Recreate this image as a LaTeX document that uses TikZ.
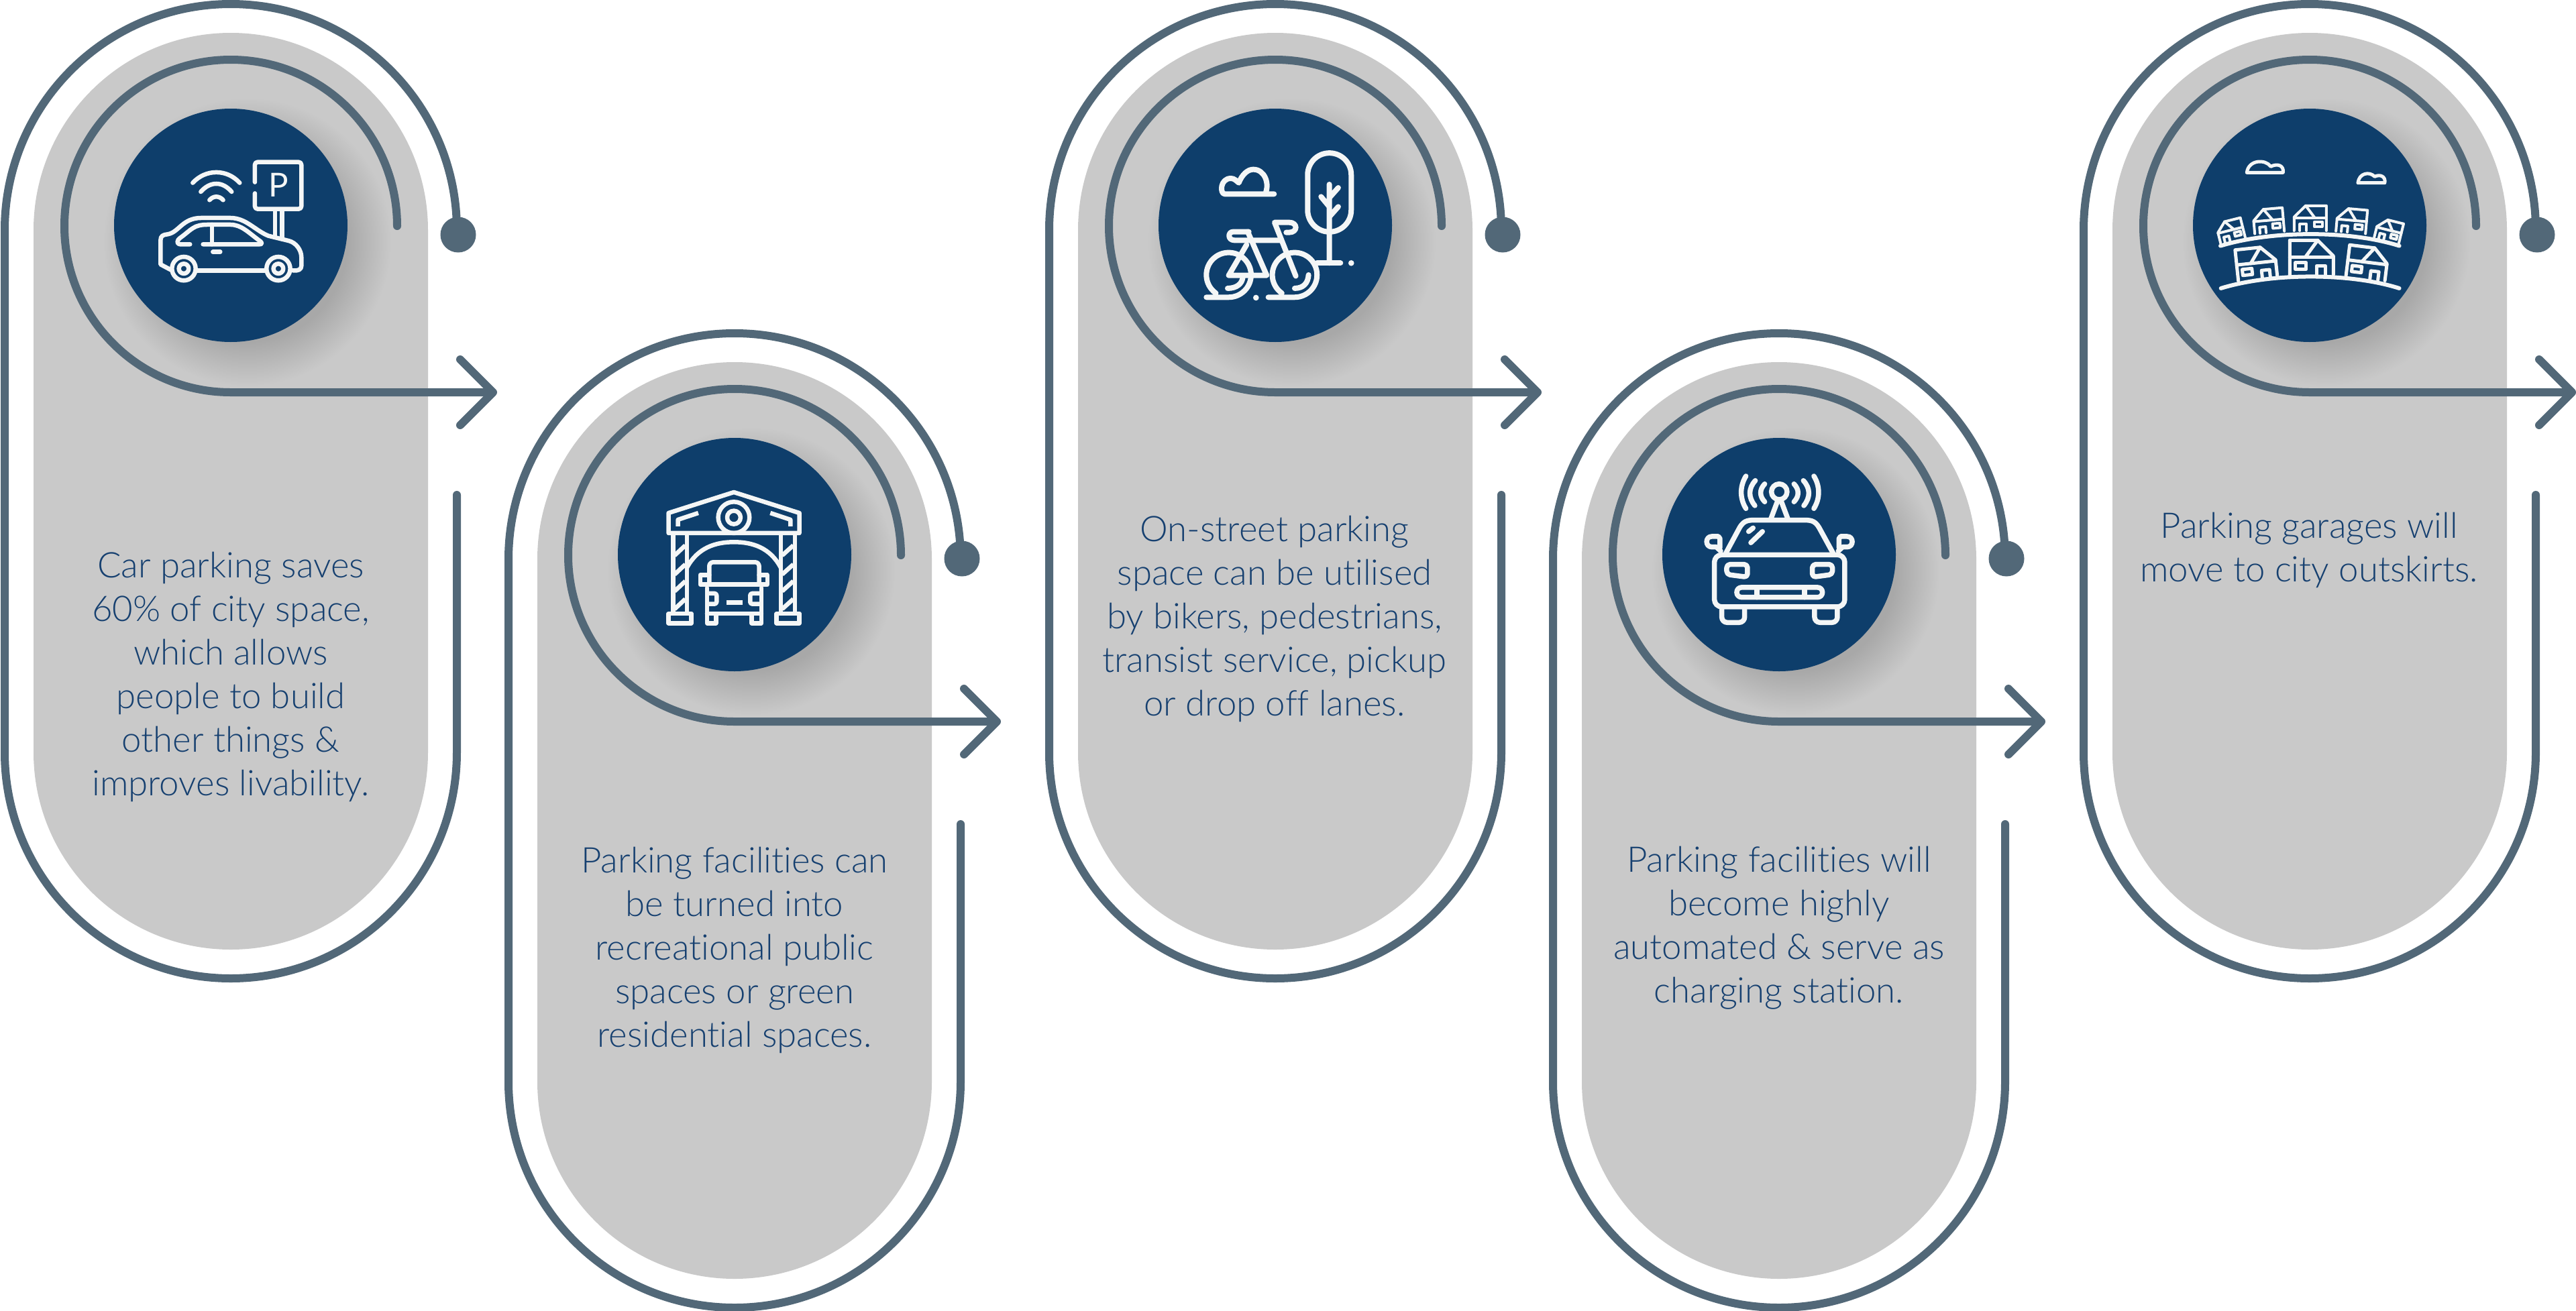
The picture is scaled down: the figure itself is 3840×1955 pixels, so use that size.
\documentclass[tikz,border=0pt]{standalone}
\usepackage{fontspec}
\setmainfont{Lato}[UprightFont=* Light,BoldFont=*,Ligatures=NoCommon]
\usetikzlibrary{arrows.meta}
\definecolor{pillgray}{HTML}{C9C9C9}
\definecolor{flowslate}{HTML}{526878}
\definecolor{badgeblue}{HTML}{0E3E6B}
\definecolor{captionblue}{HTML}{164070}
\definecolor{iconwhite}{HTML}{F4F6F6}
\tikzset{
	flow/.style={draw=flowslate,line width=1.2mm,line cap=round},
	badge/.style={circle,fill=badgeblue,minimum size=3.48cm,inner sep=0pt},
	stopdot/.style={circle,fill=flowslate,minimum size=5.3mm,inner sep=0pt},
	caption/.style={align=center,text=captionblue,font=\fontsize{15}{18.5}\selectfont},
	iconline/.style={draw=iconwhite,line width=.65mm,line cap=round,line join=round},
	zoomed/.style={x=.03333mm,y=-.03333mm},
	cottage/.pic={
		\draw[iconline] (-97,0) -- (-97,-155) -- (28,-155) -- (98,-85) -- (98,0);
		\draw[iconline] (-27,-80) -- (28,-155);
		\draw[iconline] (-97,-80) -- (98,-80);
		\draw[iconline] (-72,-55) rectangle (-24,-25);
		\draw[iconline] (23,0) -- (23,-40) -- (63,-40) -- (63,0);
	}
}
\begin{document}
\begin{tikzpicture}[x=.1mm,y=-.1mm]
	\useasboundingbox (0,0) rectangle (3840,1955);

	% the five panels
	\foreach \n/\dx/\dy/\doty in {one/0/0/350,two/751/491/342,three/1557/0/350,four/2308/491/342,five/3099/0/350} {
		\begin{scope}[shift={(\dx,\dy)}]
			\fill[pillgray] (50,343) arc[start angle=180,end angle=360,radius=294] -- (638,1122)
				arc[start angle=0,end angle=180,radius=294] -- cycle;
			\foreach \r in {150,152,...,214}
				\fill[black,opacity=.0055] (369,361) circle[radius=\r];
			\coordinate (\n-ring) at (681,738);
			\coordinate (\n-inner) at (592,337);
			\coordinate (\n-tip) at (741,585);
			\node[stopdot] (\n-dot) at (683,\doty) {};
			\draw[flow] (\n-ring) -- (681,1122) arc[start angle=0,end angle=180,radius=337]
				-- (7,343) arc[start angle=180,end angle=360,radius=337] -- (\n-dot.center);
			\draw[flow,-{Straight Barb[round,length=4.9mm,width=9.8mm]}] (\n-inner)
				arc[start angle=360,end angle=90,radius=248] -- (\n-tip);
			\node[badge] (\n-badge) at (344,336) {};
		\end{scope}
	}

	% captions
	\node[caption] (one-text) at (344,1009) {Car parking saves\\60\% of city space,\\which allows\\people to build\\other things \&\\improves livability.};
	\node[caption] (two-text) at (1095,1417) {Parking facilities can\\be turned into\\recreational public\\spaces or green\\residential spaces.};
	\node[caption] (three-text) at (1900,923) {On-street parking\\space can be utilised\\by bikers, pedestrians,\\transist service, pickup\\or drop off lanes.};
	\node[caption] (four-text) at (2652,1384) {Parking facilities will\\become highly\\automated \& serve as\\charging station.};
	\node[caption] (five-text) at (3442,820) {Parking garages will\\move to city outskirts.};

	% car and parking sign
	\begin{scope}[shift={(200,210)},zoomed]
		\draw[iconline,rounded corners=.4mm] (540,185) -- (540,95) -- (748,95) -- (748,305) -- (540,305) -- (540,235);
		\node[text=iconwhite,font=\fontsize{14}{14}\bfseries\selectfont] (sign-letter) at (645,197) {P};
		\draw[iconline] (630,310) -- (630,425) (662,310) -- (662,435);
		\draw[iconline] (262,188) .. controls (320,125) and (415,125) .. (472,188);
		\draw[iconline] (298,228) .. controls (340,180) and (395,180) .. (436,228);
		\draw[iconline] (337,265) .. controls (355,245) and (380,245) .. (398,265);
		\draw[iconline] (165,578) -- (118,553) -- (118,445) .. controls (118,425) and (130,420) .. (150,418)
			.. controls (200,410) and (215,345) .. (300,345) -- (430,345) .. controls (500,345) and (540,400) .. (600,425)
			-- (690,447) .. controls (725,455) and (748,490) .. (748,520) -- (748,560) .. controls (748,575) and (735,583) .. (710,580);
		\draw[iconline] (280,580) -- (585,580);
		\draw[iconline] (222,572) circle[radius=53] (222,572) circle[radius=22];
		\draw[iconline] (645,572) circle[radius=53] (645,572) circle[radius=22];
		\draw[iconline] (250,463) -- (205,463) .. controls (190,463) and (190,445) .. (205,435)
			.. controls (260,395) and (265,375) .. (330,375) -- (430,375) .. controls (480,375) and (510,410) .. (565,450)
			.. controls (575,460) and (570,463) .. (560,463) -- (308,463);
		\draw[iconline] (348,375) -- (348,463);
		\draw[iconline] (352,497) -- (385,497);
	\end{scope}

	% garage gate and truck
	\begin{scope}[shift={(840,650)},zoomed]
		\draw[iconline] (470,345) -- (762,252) -- (1055,345) -- (1055,435) -- (470,435) -- cycle;
		\draw[iconline,line cap=butt] (512,405) -- (512,375) -- (603,345) (1015,405) -- (1015,375) -- (925,345);
		\draw[iconline] (762,365) circle[radius=70] (762,365) circle[radius=30];
		\draw[iconline] (490,440) -- (490,790) (552,440) -- (552,790) (972,440) -- (972,790) (1035,440) -- (1035,790);
		\foreach \y in {535,620,695,775} {
			\draw[iconline,line cap=butt] (497,\y) -- (545,\y-45) (978,\y) -- (1028,\y-45);
		}
		\draw[iconline] (470,795) rectangle (572,838) (953,795) rectangle (1055,838);
		\draw[iconline] (552,590) .. controls (600,500) and (680,475) .. (762,475) .. controls (845,475) and (925,500) .. (972,590);
		\draw[iconline,rounded corners=.6mm] (652,660) -- (652,565) -- (875,565) -- (875,660);
		\draw[iconline] (652,622) -- (612,622) -- (612,665) -- (912,665) -- (912,622) -- (875,622);
		\draw[iconline] (642,680) -- (642,838) -- (682,838) -- (682,795) -- (842,795) -- (842,838) -- (885,838) -- (885,680) (642,795) -- (885,795);
		\draw[iconline,rounded corners=.3mm] (645,705) -- (685,705) -- (685,752) -- (645,752);
		\draw[iconline,rounded corners=.3mm] (882,705) -- (835,705) -- (835,752) -- (882,752);
		\draw[iconline,line cap=butt] (728,745) -- (802,745);
	\end{scope}

	% bicycle, tree and cloud
	\begin{scope}[shift={(1680,180)},zoomed,iconline/.append style={line width=.8mm}]
		\draw[iconline] (808,242) arc[start angle=180,end angle=360,radius=97.5] -- (1003,400) arc[start angle=0,end angle=180,radius=97.5] -- cycle;
		\draw[iconline] (905,285) -- (905,637) (945,300) -- (905,345) (868,340) -- (905,385) (945,385) -- (905,430);
		\draw[iconline] (850,637) -- (955,637);
		\fill[iconwhite] (1003,637) circle[radius=13] (577,792) circle[radius=13];
		\draw[iconline] (658,328) -- (437,328) .. controls (415,328) and (415,258) .. (465,258)
			.. controls (480,258) and (490,270) .. (500,278) .. controls (515,240) and (540,218) .. (565,218)
			.. controls (615,218) and (640,280) .. (618,328);
		\draw[iconline] (355,790) -- (455,790) arc[start angle=90,end angle=-235,radius=100];
		\draw[iconline] (632,790) -- (750,790) arc[start angle=90,end angle=-235,radius=100];
		\draw[iconline] (450,750) .. controls (490,750) and (515,730) .. (518,700);
		\draw[iconline] (750,750) .. controls (790,750) and (810,725) .. (812,690);
		\draw[iconline] (545,497) -- (475,497) .. controls (450,497) and (450,535) .. (480,535) -- (690,535);
		\draw[iconline] (540,497) -- (625,692) -- (455,692) -- (535,555);
		\draw[iconline] (755,695) -- (660,455) -- (725,455) .. controls (765,455) and (765,500) .. (725,500) -- (712,500);
	\end{scope}

	% connected car
	\begin{scope}[shift={(2440,650)},zoomed,iconline/.append style={line width=.75mm}]
		\draw[iconline,rounded corners=1.1mm] (347,532) rectangle (930,765);
		\draw[iconline,rounded corners=.8mm] (380,765) -- (380,835) -- (482,835) -- (482,765);
		\draw[iconline,rounded corners=.8mm] (795,765) -- (795,835) -- (897,835) -- (897,765);
		\draw[iconline] (398,525) -- (460,410) .. controls (475,385) and (490,377) .. (520,377) -- (755,377) .. controls (785,377) and (800,385) .. (815,410) -- (878,525);
		\draw[iconline] (600,370) -- (630,290) (675,370) -- (645,290);
		\draw[iconline] (637,250) circle[radius=35];
		\draw[iconline] (572,215) .. controls (548,240) and (548,270) .. (572,295);
		\draw[iconline] (530,200) .. controls (498,235) and (498,275) .. (528,312);
		\draw[iconline] (488,180) .. controls (460,225) and (460,280) .. (488,325);
		\draw[iconline] (703,215) .. controls (727,240) and (727,270) .. (703,295);
		\draw[iconline] (745,200) .. controls (777,235) and (777,275) .. (747,312);
		\draw[iconline] (792,180) .. controls (820,225) and (820,280) .. (792,325);
		\draw[iconline] (375,515) -- (355,497) -- (335,497) .. controls (305,497) and (305,450) .. (335,450) -- (365,450) -- (372,460) -- (372,500);
		\draw[iconline] (901,515) -- (921,497) -- (941,497) .. controls (971,497) and (971,450) .. (941,450) -- (911,450) -- (904,460) -- (904,500);
		\draw[iconline] (500,428) -- (520,412) (510,478) -- (562,428);
		\draw[iconline,rounded corners=.5mm] (402,575) -- (495,575) -- (495,632) -- (402,620) -- cycle;
		\draw[iconline,rounded corners=.5mm] (875,575) -- (785,575) -- (785,632) -- (875,620) -- cycle;
		\draw[iconline,rounded corners=.7mm] (447,678) rectangle (830,722);
		\draw[iconline] (537,678) -- (537,722) (750,678) -- (750,722);
	\end{scope}

	% town on a hill
	\begin{scope}[shift={(3220,180)},zoomed,iconline/.append style={line width=.5mm}]
		\draw[iconline] (388,232) -- (550,232) .. controls (555,200) and (525,190) .. (495,205) .. controls (470,170) and (395,175) .. (388,232);
		\draw[iconline] (885,278) -- (1005,278) .. controls (1010,250) and (985,238) .. (960,250) .. controls (935,225) and (890,235) .. (885,278);
		\draw[iconline,line width=.6mm] (272,750) .. controls (500,680) and (850,680) .. (1070,750);
		\draw[iconline,line width=.6mm] (270,560) .. controls (500,490) and (850,490) .. (1070,560);
		\path (437,708) pic[rotate=6,scale=.9] {cottage};
		\path (677,690) pic {cottage};
		\path (918,705) pic[rotate=-7,scale=.9] {cottage};
		\begin{scope}[iconline/.append style={line width=.4mm}]
			\path (326,535) pic[rotate=14,xscale=-.58,yscale=.58] {cottage};
			\path (490,500) pic[rotate=5,xscale=-.68,yscale=.68] {cottage};
			\path (672,492) pic[xscale=-.74,yscale=.72] {cottage};
			\path (853,500) pic[rotate=-5,xscale=-.68,yscale=.68] {cottage};
			\path (1013,535) pic[rotate=-14,xscale=-.58,yscale=.58] {cottage};
		\end{scope}
	\end{scope}
\end{tikzpicture}
\end{document}
